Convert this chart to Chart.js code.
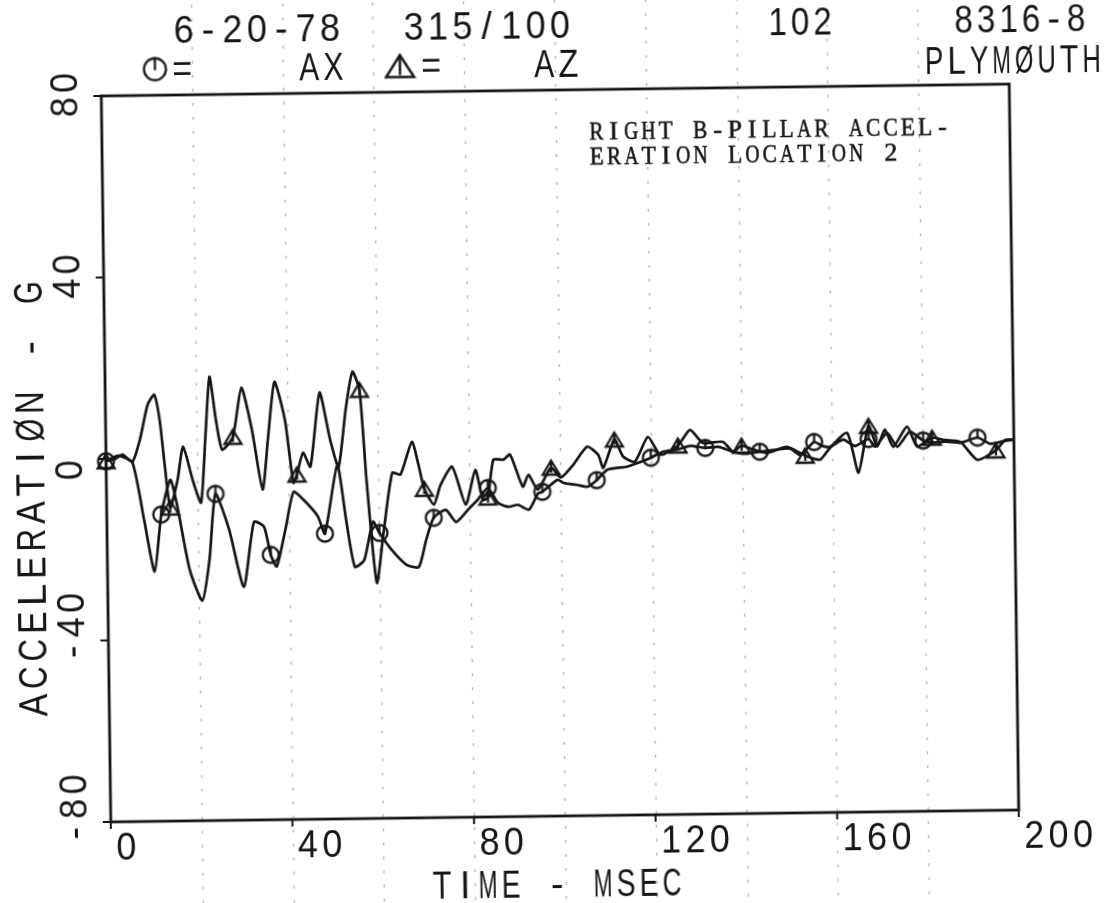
<!DOCTYPE html>
<html><head><meta charset="utf-8">
<script src="https://cdn.jsdelivr.net/npm/chart.js@4.4.1/dist/chart.umd.min.js"></script>
<style>
html,body{margin:0;padding:0;background:#fff;overflow:hidden;width:1115px;height:903px;}
#wrap{position:absolute;left:0;top:0;width:1115px;height:903px;transform-origin:560px 453px;transform:rotate(-0.75deg);}
canvas{display:block;}
</style></head><body>
<div id="wrap"><canvas id="c" width="1115" height="903"></canvas></div>
<script>
// ---- data (time in msec, acceleration in G) ----
const timeAX = [0,2.7,5.8,8.2,10.4,12,14.1,15.5,18.1,20.8,22.5,24,26.9,30,32.4,34.6,36,37.3,39.3,41.2,43.4,46.5,48,50.9,52.7,54.5,56.6,58.6,60,62.6,65.9,68.6,70.3,72,74.7,76.9,79.6,81.7,84,86.2,88.4,90.6,93,95,96,99.4,100.7,103.8,106,108,110.4,114.8,117.7,120,122.7,125.8,128.7,132,134.9,138,140.8,144,147.4,150.7,152.9,156,157.8,159.5,162.4,165,168,169.4,172.1,174.3,177.1,180,182,184.9,188.2,192,194.8,198.1,200];
const valAX = [-0.5,0.7,-0.9,-13.5,-25.0,-12.4,-4.8,-10.3,-24.6,-31.5,-22.5,-8.0,-15.9,-28.6,-14.3,-15.4,-21.6,-24.2,-16.1,-7.8,-9.6,-13.3,-17.1,-2.0,-14.1,-24.5,-23.0,-14.6,-17.1,-20.8,-24.2,-24.7,-18.7,-13.9,-12.2,-14.9,-12.2,-10.1,-7.5,-10.8,-11.7,-11.3,-12.4,-8.9,-8.5,-5.9,-6.6,-7.1,-7.5,-6.1,-3.8,-3.2,-2.2,-1.3,0,0.4,1.2,0.7,0.9,-0.2,-0.7,-0.3,0.1,0.3,-1.1,1.7,0.8,0.6,2.1,0.7,2.2,0.5,3.5,0.4,3.7,1.7,1.2,1.4,1.1,2.2,0.8,1.4,1.6];
const timeAZ = [0,2.1,3.6,5.8,7.5,9.3,10.8,11.9,13,14,15.7,17,19,20.8,21.9,23,24.3,25.6,28,30,32.2,34.4,35.7,37.3,39.5,41.2,42,43.4,45,47.2,49.4,51.2,52.9,54.5,56,57.3,59.3,61,63,64.8,67.4,68.8,70,72.1,73.6,76.2,79.1,81.3,82.9,84,85.3,87.5,89,91.7,93,95,98,100.1,102.9,106,108.4,109.5,112,113.9,116.5,119.4,122.1,126,128.7,131.5,135.9,138.1,140,142.6,145.6,150,154,157.3,159.5,163.3,165.7,168,169.9,171.6,173.4,176.5,178.7,182,184.4,188.2,191.9,196,198.1,200];
const valAZ = [-0.5,0.0,0.9,-0.7,4.1,11.8,14.0,8.5,-2.5,-10.9,-4.8,2.5,-4.8,-9.9,3.9,17.8,8.3,1.7,4.5,15.3,6.0,-7.2,3.8,16.5,8.1,-5.8,-4.0,0.8,-2.3,14.0,3.6,-2.4,10.1,18.5,14.5,-5.3,-28.1,-16.4,-3.9,-4.3,2.9,-2.2,-7.5,-11.0,-6.7,-2.7,-11.1,-3.5,-10.1,-9.6,-1.3,-1.3,-0.2,-7.3,-4.7,-8.0,-3.2,-5.4,-2.6,1.3,-0.5,-3.4,2.8,-1.0,-2.1,3.3,-0.7,1.3,4.7,1.8,2.0,-0.2,1.1,0.2,-0.6,0.7,-1.3,-2.2,0.4,3.6,-5.2,5.1,0.5,4.2,0.4,4.8,0.4,2.3,1.8,1.3,-2.7,-0.7,1.6,1.6];
// symbol (marker) times
const markAX = [0,12,24,36,48,60,72,84,96,108,120,132,144,156,168,180,192];
const markAZ = [0,14,28,42,56,70,84,98,112,126,140,154,168,182,196];
// axes
const xTickVals = [0,40,80,120,160,200];
const xTickLabels = ['0','40','80','120','160','200'];
const yTickVals = [-80,-40,0,40,80];
const yTickLabels = ['-80','-40','0','40','80'];
const xGridVals = [20,40,60,80,100,120,140,160,180];
// texts
const headerLine1 = [['6-20-78',177,24.4],['315/100',407,24.4],['102',772,22.5],['8316-8',958,22.5]];
const legendAX = 'AX', legendAZ = 'AZ';
const plateText = 'PLYMØUTH';
const noteLines = ['RIGHT B-PILLAR ACCEL-','ERATION LOCATION 2'];
const xTitle = 'TIME - MSEC';
const yTitle = 'ACCELERATIØN - G';

const INK = '#161616';
const PLOT_FONT = '38px "Liberation Sans", "DejaVu Sans", sans-serif';
const PITCH = 24.4;

function makeCircle(r, lw){
  const s = Math.ceil(2*r + lw + 2); const c = document.createElement('canvas'); c.width = s; c.height = s;
  const g = c.getContext('2d'); g.strokeStyle = INK; g.lineWidth = lw;
  g.beginPath(); g.arc(s/2, s/2, r, 0, Math.PI*2); g.stroke();
  g.beginPath(); g.moveTo(s/2, s/2 - r); g.lineTo(s/2, s/2 + 1); g.stroke();
  return c;
}
function makeTri(w, h, lw){
  const s = Math.ceil(Math.max(w,h) + lw + 2); const c = document.createElement('canvas'); c.width = s; c.height = s;
  const g = c.getContext('2d'); g.strokeStyle = INK; g.lineWidth = lw; g.lineJoin = 'miter';
  const cx = s/2, cy = s/2;
  g.beginPath(); g.moveTo(cx, cy - h/2); g.lineTo(cx + w/2, cy + h/2); g.lineTo(cx - w/2, cy + h/2); g.closePath(); g.stroke();
  g.beginPath(); g.moveTo(cx, cy - h/2); g.lineTo(cx, cy + h/2 - 2); g.stroke();
  return c;
}
const circleImg = makeCircle(8, 2.3);
const triImg = makeTri(17, 14, 2.3);
const circleBig = makeCircle(11, 2.3);
const triBig = makeTri(28, 22, 2.5);

function toXY(ts, vs){ return ts.map((t,i)=>({x:t, y:vs[i]})); }

// draw text on a fixed character pitch (plotter / typewriter style); wide glyphs are squeezed to fit
function monoText(ctx, text, x, y, pitch, font, stroke){
  ctx.font = font; ctx.textAlign = 'center'; ctx.textBaseline = 'alphabetic';
  const maxW = pitch * 0.82;
  for (let i = 0; i < text.length; i++){
    const ch = text[i]; const w = ctx.measureText(ch).width;
    const sx = w > maxW ? maxW / w : 1;
    ctx.save(); ctx.translate(x + pitch*(i + 0.5), y); ctx.scale(sx, 1);
    ctx.fillText(ch, 0, 0);
    if (stroke) ctx.strokeText(ch, 0, 0);
    ctx.restore();
  }
}

const decor = {
  id: 'decor',
  beforeDraw(chart){
    const ctx = chart.ctx; ctx.save(); ctx.fillStyle = '#fff'; ctx.fillRect(0,0,chart.width,chart.height); ctx.restore();
  },
  beforeDatasetsDraw(chart){
    const ctx = chart.ctx, xs = chart.scales.x;
    ctx.save(); ctx.strokeStyle = 'rgba(0,0,0,0.28)'; ctx.lineWidth = 1.4; ctx.setLineDash([3,11]);
    xGridVals.forEach(v=>{ const px = Math.round(xs.getPixelForValue(v)) + 0.5; ctx.beginPath(); ctx.moveTo(px, 0); ctx.lineTo(px, chart.height); ctx.stroke(); });
    ctx.restore();
  },
  afterDatasetsDraw(chart){
    const ctx = chart.ctx, xs = chart.scales.x, ys = chart.scales.y, a = chart.chartArea;
    ctx.save();
    ctx.strokeStyle = INK; ctx.fillStyle = INK; ctx.lineWidth = 2.8; ctx.setLineDash([]);
    // frame
    ctx.strokeRect(a.left, a.top, a.right - a.left, a.bottom - a.top);
    // ticks
    ctx.lineWidth = 2;
    yTickVals.forEach(v=>{ const py = ys.getPixelForValue(v); ctx.beginPath(); ctx.moveTo(a.left - 8, py); ctx.lineTo(a.left, py); ctx.stroke(); });
    xTickVals.forEach(v=>{ const px = xs.getPixelForValue(v); ctx.beginPath(); ctx.moveTo(px, a.bottom); ctx.lineTo(px, a.bottom + 7); ctx.stroke(); });
    // x tick labels
    xTickVals.forEach((v,i)=>{ const px = xs.getPixelForValue(v); monoText(ctx, xTickLabels[i], px + 3, a.bottom + 38, PITCH, PLOT_FONT); });
    // y tick labels (rotated, reading upward)
    yTickVals.forEach((v,i)=>{ const py = ys.getPixelForValue(v);
      ctx.save(); ctx.translate(a.left - 24, py + 23); ctx.rotate(-Math.PI/2);
      monoText(ctx, yTickLabels[i], 0, 0, PITCH, PLOT_FONT); ctx.restore(); });
    // axis titles
    monoText(ctx, xTitle, 425, 897, 23, PLOT_FONT);
    ctx.save(); ctx.translate(44, 492 + 27.5*yTitle.length/2); ctx.rotate(-Math.PI/2);
    monoText(ctx, yTitle, 0, 0, 27.5, '40px "Liberation Sans", "DejaVu Sans", sans-serif'); ctx.restore();
    // header
    headerLine1.forEach(([t,x,p])=> monoText(ctx, t, x, 38, p, PLOT_FONT));
    ctx.drawImage(circleBig, 160 - circleBig.width/2, 64 - circleBig.height/2);
    monoText(ctx, '=', 175, 77, PITCH, PLOT_FONT);
    monoText(ctx, legendAX, 302, 77, PITCH, PLOT_FONT);
    ctx.drawImage(triBig, 405 - triBig.width/2, 64 - triBig.height/2);
    monoText(ctx, '=', 424, 77, PITCH, PLOT_FONT);
    monoText(ctx, legendAZ, 537, 77, PITCH, PLOT_FONT);
    monoText(ctx, plateText, 928, 79, 22.5, PLOT_FONT);
    // note
    ctx.lineWidth = 0.6;
    noteLines.forEach((t,i)=> monoText(ctx, t, 592, 140 + i*25, 17.3, '26px "Liberation Serif", "DejaVu Serif", serif', true));
    ctx.restore();
  }
};

new Chart(document.getElementById('c'), {
  type: 'line',
  data: { datasets: [
    { label: 'AX', data: toXY(timeAX, valAX), borderColor: INK, borderWidth: 2.7, tension: 0.2, fill: false, clip: false,
      pointStyle: circleImg, pointRadius: c => (c.raw && markAX.includes(c.raw.x)) ? 8 : 0, pointHoverRadius: 0 },
    { label: 'AZ', data: toXY(timeAZ, valAZ), borderColor: INK, borderWidth: 2.7, tension: 0.2, fill: false, clip: false,
      pointStyle: triImg, pointRadius: c => (c.raw && markAZ.includes(c.raw.x)) ? 8 : 0, pointHoverRadius: 0 }
  ]},
  options: {
    responsive: false, animation: false, devicePixelRatio: 1,
    layout: { padding: { left: 106, top: 90, right: 101, bottom: 87 } },
    plugins: { legend: { display: false }, tooltip: { enabled: false } },
    scales: {
      x: { type: 'linear', min: 0, max: 200, display: false },
      y: { type: 'linear', min: -80, max: 80, display: false }
    }
  },
  plugins: [decor]
});
</script></body></html>
